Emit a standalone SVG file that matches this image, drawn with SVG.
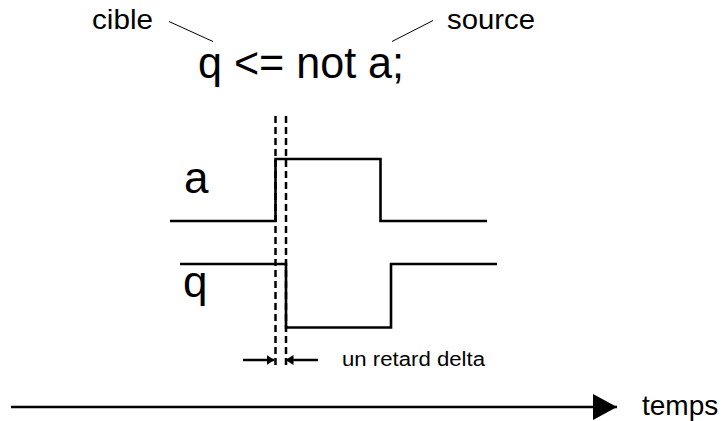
<svg xmlns="http://www.w3.org/2000/svg" width="725" height="421" viewBox="0 0 725 421">
  <style>
    text { font-family: "Liberation Sans", Arial, sans-serif; fill: #000; }
    .sig { fill: none; stroke: #000; stroke-width: 2.6; stroke-linejoin: miter; }
    .dash { fill: none; stroke: #000; stroke-width: 2.5; stroke-dasharray: 7 4; }
    .thin { fill: none; stroke: #000; stroke-width: 1; }
    .axis { fill: none; stroke: #000; stroke-width: 2.5; }
  </style>
  <defs>
    <marker id="small" viewBox="0 0 8 10" refX="8" refY="5" markerWidth="8" markerHeight="10" markerUnits="userSpaceOnUse" orient="auto">
      <path d="M0,0 L8,5 L0,10 Z" fill="#000"/>
    </marker>
    <marker id="big" viewBox="0 0 24 26" refX="24" refY="13" markerWidth="24" markerHeight="26" markerUnits="userSpaceOnUse" orient="auto">
      <path d="M0,0 L24,13 L0,26 Z" fill="#000"/>
    </marker>
  </defs>

  <g id="statement">
    <text x="198" y="78" font-size="44" textLength="206" lengthAdjust="spacingAndGlyphs">q &lt;= not a;</text>
  </g>
  <g id="label-cible">
    <text x="92" y="29" font-size="27" textLength="61" lengthAdjust="spacingAndGlyphs">cible</text>
  </g>
  <g id="label-source">
    <text x="447" y="29" font-size="27" textLength="88" lengthAdjust="spacingAndGlyphs">source</text>
  </g>
  <g id="label-a">
    <text x="184" y="193" font-size="44">a</text>
  </g>
  <g id="label-q">
    <text x="183" y="297" font-size="44">q</text>
  </g>
  <g id="signal-a">
    <path class="sig" d="M170,221 H275.5 V159 H380.5 V221 H487"/>
  </g>
  <g id="signal-q">
    <path class="sig" d="M180,264 H286 V327.5 H391 V264 H497"/>
  </g>
  <g id="label-delta">
    <text x="342" y="366" font-size="20" textLength="143" lengthAdjust="spacingAndGlyphs">un retard delta</text>
  </g>
  <g id="label-temps">
    <text x="642" y="415" font-size="28">temps</text>
  </g>

  <g id="connectors">
    <line class="thin" x1="169" y1="21.5" x2="213" y2="41.5"/>
    <line class="thin" x1="392" y1="41.5" x2="433" y2="20.5"/>
    <line class="dash" x1="275.5" y1="116" x2="275.5" y2="369"/>
    <line class="dash" x1="286" y1="116" x2="286" y2="369"/>
    <line class="axis" x1="243" y1="360" x2="274.5" y2="360" stroke-width="2" marker-end="url(#small)"/>
    <line class="axis" x1="318" y1="360" x2="285.5" y2="360" stroke-width="2" marker-end="url(#small)"/>
    <line class="axis" x1="11" y1="407" x2="617" y2="407" marker-end="url(#big)"/>
  </g>
</svg>
